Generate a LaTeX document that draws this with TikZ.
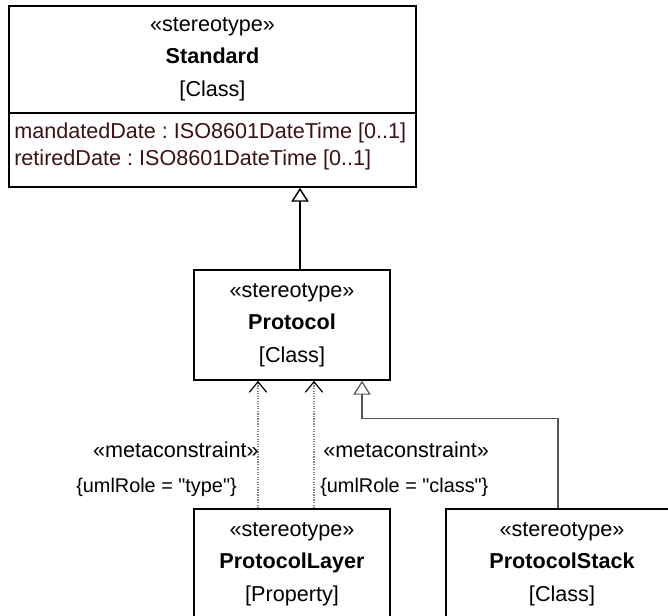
\documentclass[tikz,border=0pt]{standalone}
\usepackage{fontspec}
\setmainfont{Liberation Sans}[Ligatures=TeXOff]
\usetikzlibrary{arrows.meta, positioning}
\definecolor{attrred}{HTML}{3D1212}
\definecolor{linegray}{HTML}{555555}
\frenchspacing

\begin{document}
\begin{tikzpicture}[
    x=0.75pt, y=-0.75pt,
    classbox/.style={rectangle, draw, line width=1.1pt, fill=white, inner sep=0pt,
                     align=center, font=\fontsize{16.2}{24.5}\selectfont},
    boxtext/.style={align=center, inner sep=0pt, font=\fontsize{16.2}{24.5}\selectfont},
    attrtext/.style={align=left, inner sep=0pt, text=attrred,
                     font=\fontsize{16.2}{20.3}\selectfont},
    stereolabel/.style={inner sep=0pt, font=\fontsize{16.2}{20}\selectfont},
    rolelabel/.style={inner sep=0pt, font=\fontsize{14.9}{18}\selectfont},
    gen/.style={-{Triangle[open, length=10.5pt, width=13pt]}, line width=1.1pt},
    stackgen/.style={gen, draw=linegray, line width=0.9pt},
    meta/.style={-{Straight Barb[length=8pt, width=13pt, color=black]},
                 densely dotted, draw=gray, line width=0.9pt}
]
\useasboundingbox (0,0) rectangle (668,615);
\clip (0,0) rectangle (668,615);

% Standard
\node[classbox, minimum width=305.25pt, minimum height=135.75pt] at (212.5,96.5) (standard) {};
\node[boxtext] at (212.5,59) (standardhead) {«stereotype»\\\textbf{Standard}\\{[Class]}};
\coordinate (divide) at (212.5,113);
\draw[line width=1.1pt] (standard.west |- divide) -- (standard.east |- divide);
\node[attrtext, anchor=west] at (14,146.5) (standardattrs)
    {mandatedDate : ISO8601DateTime [0..1]\\retiredDate : ISO8601DateTime [0..1]};

% Protocol
\node[classbox, minimum width=147pt, minimum height=82.5pt] at (292,325) (protocol)
    {«stereotype»\\\textbf{Protocol}\\{[Class]}};

% Layer and stack
\node[classbox, minimum width=147pt, minimum height=82.5pt] at (292,564) (protocollayer)
    {«stereotype»\\\textbf{ProtocolLayer}\\{[Property]}};
\node[classbox, minimum width=174pt, minimum height=82.5pt] at (562,564) (protocolstack)
    {«stereotype»\\\textbf{ProtocolStack}\\{[Class]}};

% Generalizations
\coordinate (genstart) at ([xshift=6pt]protocol.north);
\draw[gen] (genstart) -- (genstart |- standard.south);
\coordinate (stackstart) at ([xshift=-3pt]protocolstack.north);
\coordinate (stackend) at ([xshift=52.5pt]protocol.south);
\draw[stackgen] (stackstart) -- ++(0,-90) -| (stackend);

% Metaconstraints
\coordinate (typestart) at ([xshift=-25.5pt]protocollayer.north);
\coordinate (classstart) at ([xshift=16.5pt]protocollayer.north);
\draw[meta] (typestart) -- (typestart |- protocol.south);
\draw[meta] (classstart) -- (classstart |- protocol.south);

\node[stereolabel, anchor=east] at (259,450) (typestereo) {«metaconstraint»};
\node[rolelabel, anchor=east] at (237,487) (typerole) {\{umlRole = "type"\}};
\node[stereolabel, anchor=west] at (323,450) (classstereo) {«metaconstraint»};
\node[rolelabel, anchor=west] at (320,487) (classrole) {\{umlRole = "class"\}};

\end{tikzpicture}
\end{document}
